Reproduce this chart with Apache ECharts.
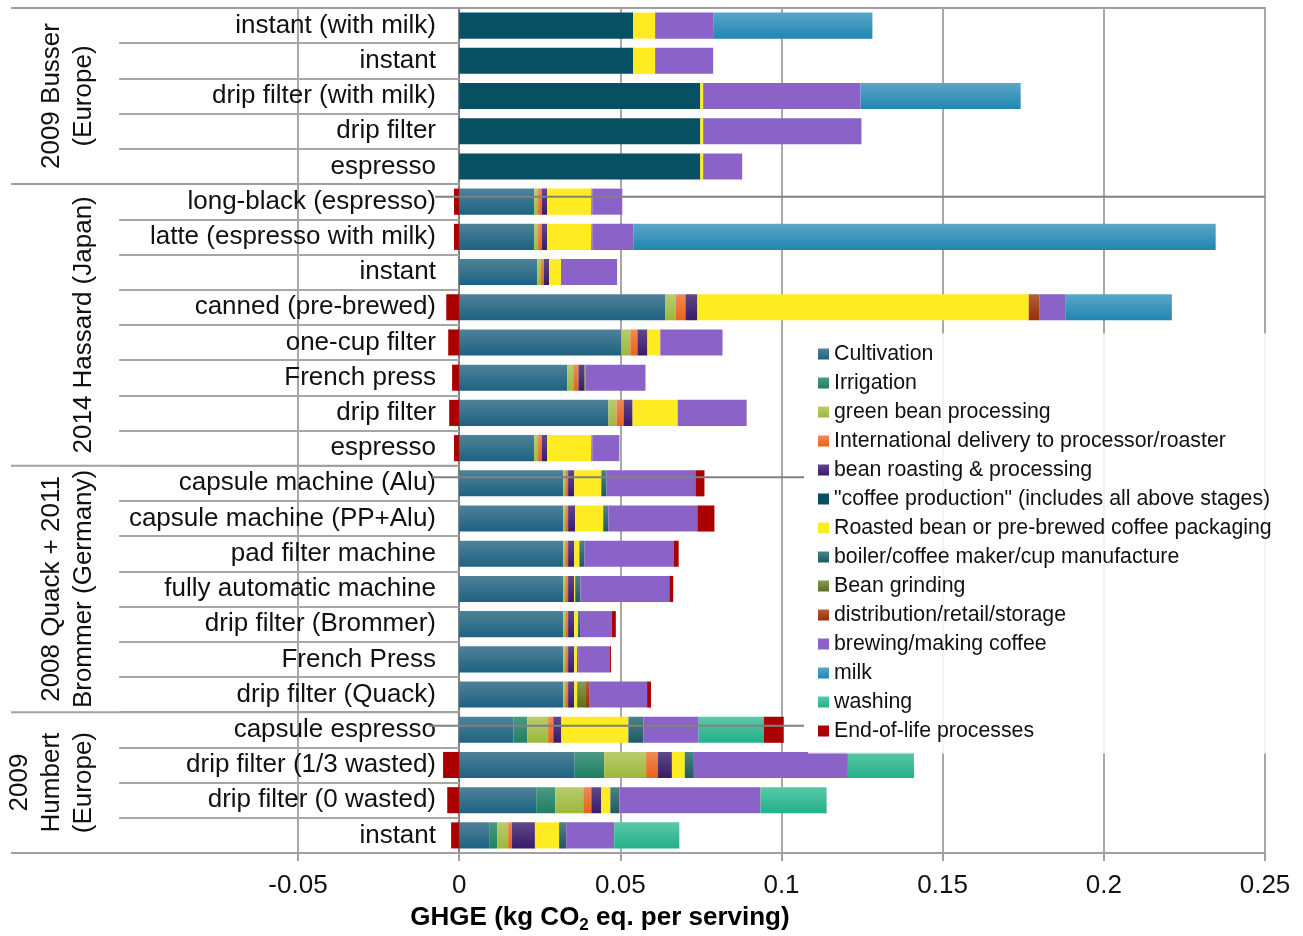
<!DOCTYPE html>
<html><head><meta charset="utf-8">
<script src="https://cdn.jsdelivr.net/npm/echarts@6/dist/echarts.min.js"></script>
<style>html,body{margin:0;padding:0;background:#fff}#c{width:1303px;height:936px}</style>
</head><body><div id="c"></div>
<script>
// ---------- data ----------
const categories = [
  'instant (with milk)','instant','drip filter (with milk)','drip filter','espresso',
  'long-black (espresso)','latte (espresso with milk)','instant','canned (pre-brewed)','one-cup filter','French press','drip filter','espresso',
  'capsule machine (Alu)','capsule machine (PP+Alu)','pad filter machine','fully automatic machine','drip filter (Brommer)','French Press','drip filter (Quack)',
  'capsule espresso','drip filter (1/3 wasted)','drip filter (0 wasted)','instant'
];
const groupLabels = [['2009 Busser','(Europe)'],['2014 Hassard (Japan)'],['2008 Quack + 2011','Brommer (Germany)'],['2009','Humbert','(Europe)']];
const groupSizes = [5, 8, 7, 4];
const xTicks = [-0.05, 0, 0.05, 0.1, 0.15, 0.2, 0.25];

const seriesNames = ['Cultivation','Irrigation','green bean processing','International delivery to processor/roaster','bean roasting & processing','"coffee production" (includes all above stages)','Roasted bean or pre-brewed coffee packaging','boiler/coffee maker/cup manufacture','Bean grinding','distribution/retail/storage','brewing/making coffee','milk','washing','End-of-life processes'];

const cultivation  = [0,0,0,0,0, 0.0233,0.0233,0.0242,0.0640,0.0503,0.0335,0.0463,0.0233, 0.0323,0.0323,0.0323,0.0323,0.0323,0.0323,0.0323, 0.0168,0.0357,0.0239,0.0093];
const irrigation   = [0,0,0,0,0, 0,0,0,0,0,0,0,0, 0,0,0,0,0,0,0, 0.0043,0.0093,0.0059,0.0025];
const greenBean    = [0,0,0,0,0, 0.0012,0.0012,0.0012,0.0031,0.0028,0.0019,0.0025,0.0012, 0.0006,0.0006,0.0006,0.0006,0.0006,0.0006,0.0006, 0.0065,0.0130,0.0087,0.0034];
const intlDelivery = [0,0,0,0,0, 0.0012,0.0012,0.0009,0.0031,0.0022,0.0016,0.0022,0.0012, 0.0009,0.0009,0.0009,0.0009,0.0009,0.0009,0.0009, 0.0016,0.0037,0.0025,0.0012];
const roasting     = [0,0,0,0,0, 0.0016,0.0016,0.0016,0.0037,0.0031,0.0019,0.0028,0.0016, 0.0019,0.0022,0.0019,0.0019,0.0019,0.0019,0.0019, 0.0025,0.0043,0.0031,0.0071];
const coffeeProd   = [0.0540,0.0540,0.0748,0.0748,0.0748, 0,0,0,0,0,0,0,0, 0,0,0,0,0,0,0, 0,0,0,0];
const packaging    = [0.0068,0.0068,0.0009,0.0009,0.0009, 0.0137,0.0137,0.0037,0.1028,0.0040,0,0.0140,0.0137, 0.0084,0.0087,0.0016,0.0003,0.0012,0.0009,0.0009, 0.0208,0.0040,0.0028,0.0075];
const boiler       = [0,0,0,0,0, 0,0,0,0,0,0,0,0, 0.0016,0.0016,0.0016,0.0016,0.0006,0.0003,0, 0.0047,0.0028,0.0028,0.0022];
const grinding     = [0,0,0,0,0, 0.0003,0.0003,0,0,0,0.0003,0,0.0003, 0,0,0,0,0,0,0.0025, 0,0,0,0];
const distribution = [0,0,0,0,0, 0,0,0,0.0034,0,0,0,0, 0,0,0,0,0,0,0.0012, 0,0,0,0];
const brewing      = [0.0180,0.0180,0.0488,0.0491,0.0121, 0.0093,0.0127,0.0174,0.0081,0.0193,0.0186,0.0214,0.0084, 0.0276,0.0276,0.0276,0.0276,0.0099,0.0099,0.0180, 0.0171,0.0478,0.0438,0.0149];
const milk         = [0.0494,0,0.0497,0,0, 0,0.1807,0,0.0329,0,0,0,0, 0,0,0,0,0,0,0, 0,0,0,0];
const washing      = [0,0,0,0,0, 0,0,0,0,0,0,0,0, 0,0,0,0,0,0,0, 0.0202,0.0205,0.0205,0.0202];
const endOfLife    = [0,0,0,0,0, -0.0016,-0.0016,0,-0.0040,-0.0034,-0.0022,-0.0031,-0.0016, 0.0028,0.0053,0.0016,0.0012,0.0012,0.0003,0.0012, 0.0062,-0.0050,-0.0037,-0.0025];

// ---------- styling ----------
const FONT = "'Liberation Sans', Arial, sans-serif";
function grad(top, bottom) {
  return {type:'linear', x:0, y:0, x2:0, y2:1, colorStops:[{offset:0,color:top},{offset:1,color:bottom}]};
}
const colors = [
  grad('#4f8299','#1d6282'),
  grad('#4a9a82','#1f7f63'),
  grad('#b8cc6c','#9cb83c'),
  grad('#ee8a58','#e8621c'),
  grad('#5e4888','#3a1a6a'),
  '#075063',
  '#ffeb22',
  grad('#4d8385','#1d5a66'),
  grad('#8a9a50','#5a7020'),
  grad('#b0603a','#983000'),
  '#8a62c8',
  grad('#5aa6c8','#2086b2'),
  grad('#5ac8a8','#22b088'),
  '#aa0000'
];
const seriesData = [cultivation, irrigation, greenBean, intlDelivery, roasting, coffeeProd, packaging, boiler, grinding, distribution, brewing, milk, washing, endOfLife];

const chart = echarts.init(document.getElementById('c'), null, {renderer:'canvas'});
const option = {
  animation: false,
  backgroundColor: '#fff',
  grid: {left: 298, right: 38, top: 8, bottom: 83, containLabel: false, outerBoundsMode: 'none',
    show: true, borderColor: '#a0a0a0', borderWidth: 2, backgroundColor: 'transparent'},
  legend: {
    orient: 'vertical', left: 808, top: 333.5,
    itemWidth: 11, itemHeight: 11, itemGap: 0, icon: 'rect',
    padding: [6, 8, 8, 10],
    backgroundColor: 'rgba(255,255,255,0.85)',
    selectedMode: false,
    textStyle: {fontFamily: FONT, fontSize: 21.3, lineHeight: 29, color: '#111'},
    data: seriesNames
  },
  xAxis: {
    type: 'value', min: -0.05, max: 0.25, interval: 0.05,
    axisLine: {show: true, lineStyle: {color: '#a0a0a0', width: 2}},
    axisTick: {show: true, length: 8, lineStyle: {color: '#a0a0a0', width: 2}},
    splitLine: {show: true, lineStyle: {color: '#a8a8a8', width: 2}},
    axisLabel: {fontFamily: FONT, fontSize: 26, color: '#111', margin: 20,
      formatter: v => { const t = xTicks.find(x => Math.abs(x - v) < 1e-9); return String(t !== undefined ? t : v); }}
  },
  yAxis: {
    type: 'category', data: categories, inverse: true,
    axisLine: {show: true, onZero: true, lineStyle: {color: '#808080', width: 2}},
    axisTick: {show: true, length: 340, lineStyle: {color: '#a6a6a6', width: 2}},
    splitLine: {show: false},
    axisLabel: {fontFamily: FONT, fontSize: 26, color: '#111', margin: -138}
  },
  series: seriesNames.map((name, i) => ({
    name, type: 'bar', stack: 'total', barWidth: '74%',
    itemStyle: {color: colors[i]},
    data: seriesData[i]
  }))
};
chart.setOption(option);

// ---------- decorations (category group structure) ----------
const yc = i => chart.convertToPixel({yAxisIndex: 0}, i);
const xv = v => chart.convertToPixel({xAxisIndex: 0}, v);
const rowH = yc(1) - yc(0);
const x0 = xv(0);
const elems = [];
let start = 0;
const boundaries = [0];
groupSizes.forEach(n => { start += n; boundaries.push(start); });
boundaries.forEach(b => {
  const y = b < categories.length ? yc(b) - rowH / 2 : yc(categories.length - 1) + rowH / 2;
  elems.push({type: 'line', shape: {x1: 11, y1: y, x2: x0, y2: y}, style: {stroke: '#a0a0a0', lineWidth: 2}, z: 5});
});
for (let g = 0; g < groupSizes.length; g++) {
  const yTop = yc(boundaries[g]) - rowH / 2;
  const yBot = yc(boundaries[g + 1] - 1) + rowH / 2;
  const cy = (yTop + yBot) / 2;
  const lines = groupLabels[g];
  lines.forEach((t, k) => {
    elems.push({type: 'text', x: 84 - (lines.length - 1 - k) * 32, y: cy, rotation: Math.PI / 2,
      style: {text: t, fontFamily: FONT, fontSize: 26, fill: '#111', textAlign: 'center', textVerticalAlign: 'middle'}, z: 5});
  });
}
// stray connector lines present in the original figure
elems.push({type: 'line', shape: {x1: x0 - 24, y1: yc(5) - 5, x2: xv(0.25), y2: yc(5) - 5}, style: {stroke: '#808080', lineWidth: 2}, z: 20});
elems.push({type: 'line', shape: {x1: x0 - 27, y1: yc(13) - 6, x2: xv(0.107), y2: yc(13) - 6}, style: {stroke: '#808080', lineWidth: 2}, z: 20});
elems.push({type: 'line', shape: {x1: x0 - 30, y1: yc(20) - 4, x2: xv(0.107), y2: yc(20) - 4}, style: {stroke: '#808080', lineWidth: 2}, z: 20});
// axis title with subscript
elems.push({type: 'text', x: 600, y: 920,
  style: {text: '{b|GHGE (kg CO}{s|2}{b| eq. per serving)}', textAlign: 'center', textVerticalAlign: 'middle',
    rich: {
      b: {fontFamily: FONT, fontSize: 26, fontWeight: 'bold', fill: '#000', color: '#000', lineHeight: 30, verticalAlign: 'top'},
      s: {fontFamily: FONT, fontSize: 17, fontWeight: 'bold', fill: '#000', color: '#000', lineHeight: 17, padding: [12, 0, 0, 0], verticalAlign: 'top'}
    }}, z: 5});
chart.setOption({graphic: {elements: elems}});
</script>
</body></html>
